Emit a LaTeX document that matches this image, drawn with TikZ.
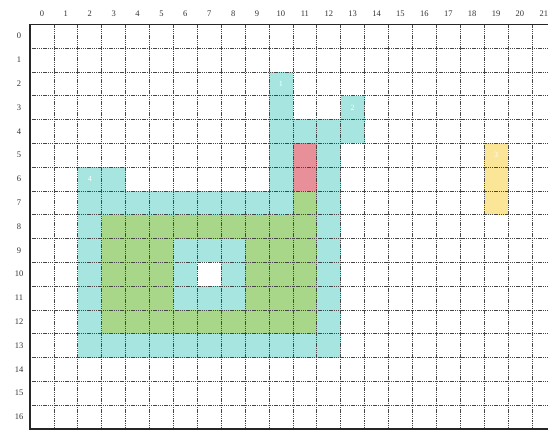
\documentclass[tikz,border=0pt]{standalone}
\usepackage{fontspec}
\setmainfont{Liberation Serif}
\definecolor{cellcyan}{RGB}{166,229,224}
\definecolor{cellgreen}{RGB}{169,215,137}
\definecolor{cellred}{RGB}{232,144,154}
\definecolor{cellyellow}{RGB}{251,229,151}
\definecolor{gridline}{RGB}{70,70,70}
\tikzset{
  gridl/.style={draw=gridline, line width=0.7pt, dash pattern=on 1.3pt off 0.9pt},
  border/.style={draw=black!85, line width=1.3pt},
  axislabel/.style={font=\fontsize{8.5}{9}\selectfont, text=black!80, inner sep=0pt},
  celllabel/.style={font=\fontsize{8}{9}\selectfont, text=white, inner sep=0pt},
}
\begin{document}
\begin{tikzpicture}
\useasboundingbox (0,0) rectangle (548pt,-430pt);
\fill[white] (0,0) rectangle (548pt,-430pt);
\begin{scope}[shift={(30pt,-24.3pt)}, x=23.9pt, y=-23.8pt]
  % cyan regions
  \fill[cellcyan] (2,7) rectangle (13,14);
  \fill[cellcyan] (2,6) rectangle (4,7);
  \fill[cellcyan] (10,2) rectangle (11,7);
  \fill[cellcyan] (11,4) rectangle (14,5);
  \fill[cellcyan] (13,3) rectangle (14,4);
  \fill[cellcyan] (12,5) rectangle (13,7);
  % green regions
  \fill[cellgreen] (3,8) rectangle (12,13);
  \fill[cellgreen] (11,7) rectangle (12,8);
  % inner cyan ring and hole
  \fill[cellcyan] (6,9) rectangle (9,12);
  \fill[white] (7,10) rectangle (8,11);
  % red and yellow
  \fill[cellred] (11,5) rectangle (12,7);
  \fill[cellyellow] (19,5) rectangle (20,8);
  % grid
  \foreach \c in {1,...,21} \draw[gridl] (\c,0) -- (\c,17);
  \foreach \r in {1,...,16} \draw[gridl] (0,\r) -- (21.7,\r);
  \draw[border] (21.7,0) -- (0,0) -- (0,17) -- (21.7,17);
  % axis labels
  \foreach \c in {0,...,21} \node[axislabel] (col\c) at (\c+0.5,-0.44) {\c};
  \foreach \r in {0,...,16} \node[axislabel] (row\r) at (-0.46,\r+0.5) {\r};
  % cell labels
  \node[celllabel] (lab1) at (10.5,2.5) {1};
  \node[celllabel] (lab2) at (13.5,3.5) {2};
  \node[celllabel] (lab3) at (19.5,5.5) {3};
  \node[celllabel] (lab4) at (2.5,6.5) {4};
\end{scope}
\end{tikzpicture}
\end{document}
